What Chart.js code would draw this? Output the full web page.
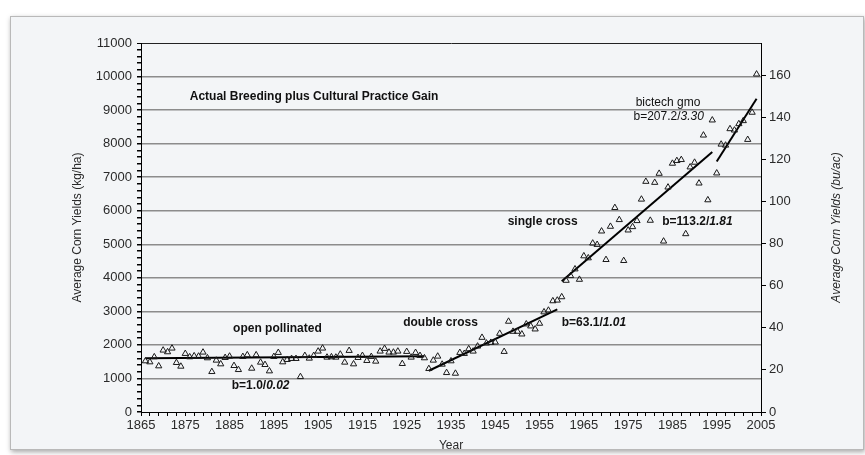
<!DOCTYPE html>
<html>
<head>
<meta charset="utf-8">
<script src="https://cdn.jsdelivr.net/npm/chart.js@4.4.1/dist/chart.umd.min.js"></script>
<style>
  html, body { margin: 0; padding: 0; background: #fff; }
  #wrap { position: relative; width: 865px; height: 455px; overflow: hidden; }
  .frame {
    position: absolute; left: 10px; top: 16px; width: 852px; height: 432px;
    background: #f3f5f7; border: 1px solid #b9b9b9;
    box-shadow: 1px 2px 5px rgba(0,0,0,0.35);
  }
  canvas { position: absolute; left: 0; top: 0; }
</style>
</head>
<body>
<div id="wrap">
  <div class="frame"></div>
  <canvas id="chart" width="865" height="455"></canvas>
</div>
<script>
// US corn yield, kg/ha, one value per year
const YEARS = [
  1866, 1867, 1868, 1869, 1870, 1871, 1872, 1873, 1874, 1875,
  1876, 1877, 1878, 1879, 1880, 1881, 1882, 1883, 1884, 1885,
  1886, 1887, 1888, 1889, 1890, 1891, 1892, 1893, 1894, 1895,
  1896, 1897, 1898, 1899, 1900, 1901, 1902, 1903, 1904, 1905,
  1906, 1907, 1908, 1909, 1910, 1911, 1912, 1913, 1914, 1915,
  1916, 1917, 1918, 1919, 1920, 1921, 1922, 1923, 1924, 1925,
  1926, 1927, 1928, 1929, 1930, 1931, 1932, 1933, 1934, 1935,
  1936, 1937, 1938, 1939, 1940, 1941, 1942, 1943, 1944, 1945,
  1946, 1947, 1948, 1949, 1950, 1951, 1952, 1953, 1954, 1955,
  1956, 1957, 1958, 1959, 1960, 1961, 1962, 1963, 1964, 1965,
  1966, 1967, 1968, 1969, 1970, 1971, 1972, 1973, 1974, 1975,
  1976, 1977, 1978, 1979, 1980, 1981, 1982, 1983, 1984, 1985,
  1986, 1987, 1988, 1989, 1990, 1991, 1992, 1993, 1994, 1995,
  1996, 1997, 1998, 1999, 2000, 2001, 2002, 2003, 2004
];
const YIELDS = [
  1520, 1490, 1640, 1370, 1840, 1790, 1900, 1470, 1360, 1740,
  1640, 1670, 1660, 1780, 1610, 1200, 1540, 1430, 1620, 1660,
  1380, 1260, 1650, 1700, 1300, 1700, 1480, 1410, 1220, 1650,
  1770, 1490, 1560, 1590, 1590, 1050, 1680, 1600, 1680, 1810,
  1900, 1630, 1640, 1630, 1720, 1480, 1830, 1430, 1620, 1680,
  1530, 1650, 1510, 1810, 1890, 1780, 1780, 1810, 1440, 1800,
  1630, 1770, 1680, 1610, 1290, 1540, 1660, 1420, 1170, 1520,
  1150, 1770, 1740, 1880, 1810, 1960, 2220, 2050, 2070, 2080,
  2340, 1800, 2700, 2400, 2400, 2320, 2620, 2560, 2470, 2640,
  2980, 3030, 3310, 3330, 3430, 3920, 4060, 4260, 3950, 4650,
  4590, 5030, 4990, 5390, 4540, 5530, 6090, 5730, 4510, 5420,
  5520, 5700, 6340, 6870, 5710, 6840, 7110, 5090, 6700, 7410,
  7490, 7520, 5310, 7300, 7440, 6820, 8250, 6320, 8700, 7120,
  7980, 7950, 8440, 8400, 8590, 8680, 8120, 8930, 10070
];

// fitted trend segments (start / end of each line)
const FIT_NAMES = ['open pollinated', 'double cross', 'single cross', 'biotech gmo'];
const FIT_X0 = [1866, 1930, 1960, 1995];
const FIT_X1 = [1929, 1959, 1994, 2004];
const FIT_Y0 = [1600, 1230, 3900, 7470];
const FIT_Y1 = [1665, 3060, 7750, 9340];

const X_TICKS = [1865, 1875, 1885, 1895, 1905, 1915, 1925, 1935, 1945, 1955, 1965, 1975, 1985, 1995, 2005];
const LEFT_TICKS = [0, 1000, 2000, 3000, 4000, 5000, 6000, 7000, 8000, 9000, 10000, 11000];
const RIGHT_TICKS = [0, 20, 40, 60, 80, 100, 120, 140, 160];
const KG_PER_BU = 62.77;

const FONT = '"Liberation Sans", Arial, sans-serif';
const TEXT = '#2a2a2a';

const notes = [
  { x: 1876, y: 9400, parts: [['Actual Breeding plus Cultural Practice Gain', 'bold']] },
  { x: 1976.7, y: 9220, parts: [['bictech gmo', 'normal']] },
  { x: 1976.2, y: 8790, parts: [['b=207.2/', 'normal'], ['3.30', 'italic']] },
  { x: 1947.8, y: 5660, parts: [['single cross', 'bold']] },
  { x: 1982.7, y: 5660, parts: [['b=113.2/', 'bold'], ['1.81', 'italic bold']] },
  { x: 1924.2, y: 2650, parts: [['double cross', 'bold']] },
  { x: 1960.0, y: 2650, parts: [['b=63.1/', 'bold'], ['1.01', 'italic bold']] },
  { x: 1885.8, y: 2470, parts: [['open pollinated', 'bold']] },
  { x: 1885.5, y: 780, parts: [['b=1.0/', 'bold'], ['0.02', 'italic bold']] }
];

const notesPlugin = {
  id: 'notes',
  afterDatasetsDraw(chart) {
    const { ctx, scales, chartArea } = chart;
    ctx.save();
    ctx.fillStyle = '#111';
    ctx.textBaseline = 'middle';
    notes.forEach(n => {
      let px = scales.x.getPixelForValue(n.x);
      const py = scales.y.getPixelForValue(n.y);
      n.parts.forEach(([t, style]) => {
        ctx.font = style + ' 12px ' + FONT;
        ctx.fillText(t, px, py);
        px += ctx.measureText(t).width;
      });
    });
    // right axis title, reading bottom to top like the left one
    const r = scales.y1;
    ctx.translate(r.right - 7, (chartArea.top + chartArea.bottom) / 2);
    ctx.rotate(-Math.PI / 2);
    ctx.textAlign = 'center';
    ctx.fillStyle = TEXT;
    ctx.font = 'italic 12px ' + FONT;
    ctx.fillText('Average Corn Yields (bu/ac)', 0, 0);
    ctx.restore();
  }
};

const points = YEARS.map((yr, i) => ({ x: yr, y: YIELDS[i] }));
const fitSets = FIT_NAMES.map((name, i) => ({
  label: name,
  data: [{ x: FIT_X0[i], y: FIT_Y0[i] }, { x: FIT_X1[i], y: FIT_Y1[i] }],
  showLine: true,
  borderColor: '#000',
  borderWidth: 2,
  pointRadius: 0
}));

new Chart(document.getElementById('chart'), {
  type: 'scatter',
  data: {
    datasets: [{
      label: 'yield',
      data: points,
      pointStyle: 'triangle',
      pointRadius: 3.6,
      borderColor: '#1a1a1a',
      borderWidth: 1,
      backgroundColor: 'rgba(0,0,0,0)'
    }, ...fitSets]
  },
  options: {
    responsive: false,
    animation: false,
    layout: { padding: { left: 70, right: 21, top: 43, bottom: 2 } },
    plugins: { legend: { display: false }, tooltip: { enabled: false } },
    scales: {
      x: {
        type: 'linear',
        min: 1865,
        max: 2005,
        afterBuildTicks(s) {
          const t = [];
          for (let v = 1865; v <= 2005; v += 2) t.push({ value: v });
          s.ticks = t;
        },
        afterFit(s) { s.height = 41; },
        ticks: {
          autoSkip: false, maxRotation: 0, minRotation: 0,
          color: TEXT, font: { family: FONT, size: 13 }, padding: 2,
          callback: v => X_TICKS.includes(v) ? String(v) : ''
        },
        grid: { drawOnChartArea: false, tickColor: '#000', tickLength: 4 },
        border: { color: '#000', width: 1 },
        title: { display: true, text: 'Year', color: TEXT, font: { family: FONT, size: 12 }, padding: 0 }
      },
      y: {
        position: 'left',
        min: 0,
        max: 11000,
        afterBuildTicks(s) {
          const t = [];
          for (let v = 0; v <= 11000; v += 200) t.push({ value: v });
          s.ticks = t;
        },
        afterFit(s) { s.width = 71; },
        ticks: {
          autoSkip: false, color: TEXT, font: { family: FONT, size: 13 }, padding: 5,
          callback: v => LEFT_TICKS.includes(v) ? String(v) : ''
        },
        grid: {
          color: c => {
            const v = c.tick.value;
            if (v === 11000) return '#222';
            if (v > 0 && v % 1000 === 0) return '#8c8c8c';
            return 'rgba(0,0,0,0)';
          },
          lineWidth: c => c.tick.value === 11000 ? 1 : 1.5,
          tickColor: '#000',
          tickLength: 4
        },
        border: { color: '#000', width: 1 },
        title: { display: true, text: 'Average Corn Yields (kg/ha)', color: TEXT, font: { family: FONT, size: 12 }, padding: 0 }
      },
      y1: {
        position: 'right',
        min: 0,
        max: 11000 / KG_PER_BU,
        afterBuildTicks(s) { s.ticks = RIGHT_TICKS.map(v => ({ value: v })); },
        afterFit(s) { s.width = 83; },
        ticks: { color: TEXT, font: { family: FONT, size: 13 }, padding: 3 },
        grid: { drawOnChartArea: false, tickColor: '#000', tickLength: 5 },
        border: { color: '#000', width: 1 },
        title: { display: false }
      }
    }
  },
  plugins: [notesPlugin]
});
</script>
</body>
</html>
